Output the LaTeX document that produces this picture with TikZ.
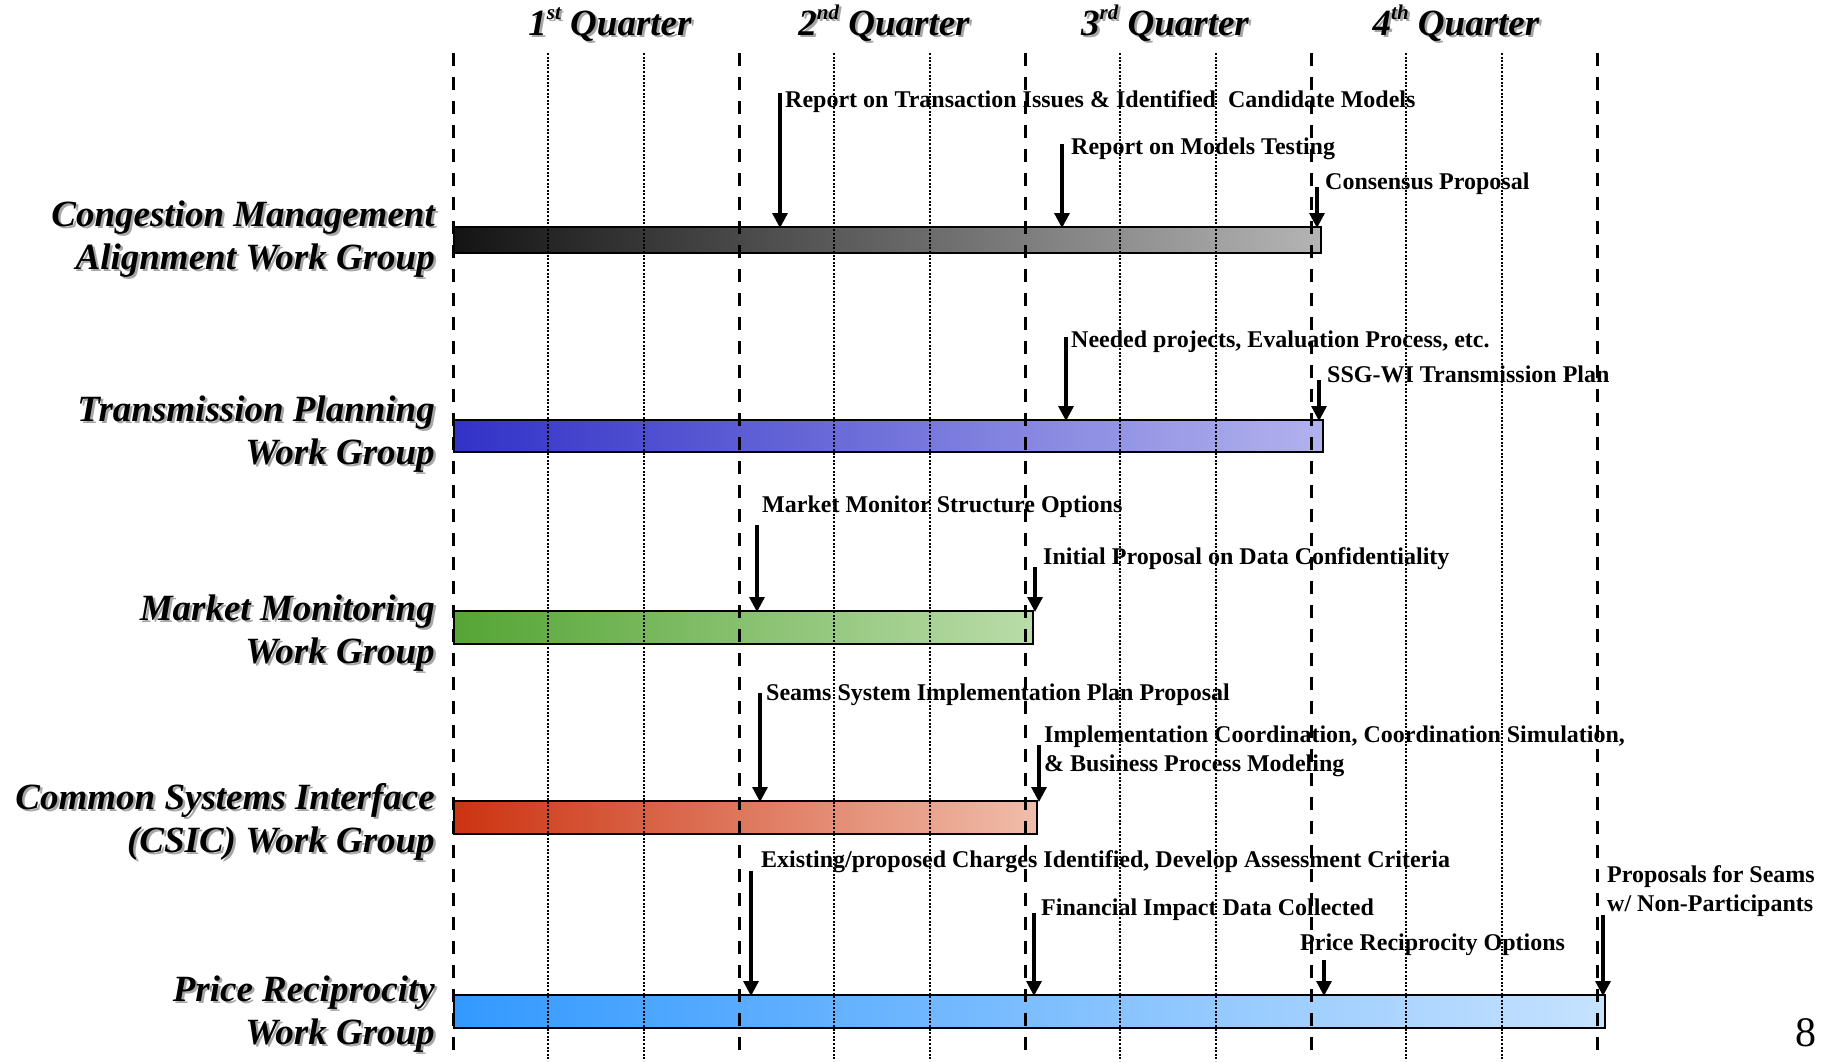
\documentclass[tikz,border=0pt]{standalone}
\usepackage{fontspec}
\setmainfont{Liberation Serif}
\usetikzlibrary{arrows.meta}
\definecolor{cmL}{HTML}{141414}\definecolor{cmR}{HTML}{B4B4B4}
\definecolor{tpL}{HTML}{3232C8}\definecolor{tpR}{HTML}{B2B2EE}
\definecolor{mmL}{HTML}{55A535}\definecolor{mmR}{HTML}{BADCA9}
\definecolor{csL}{HTML}{CC3311}\definecolor{csR}{HTML}{F0BDAA}
\definecolor{prL}{HTML}{3399FF}\definecolor{prR}{HTML}{C6E2FF}
\newcommand\qsup[1]{\raisebox{0.42em}{\fontsize{21}{21}\selectfont #1}}
\tikzset{
  grp/.style={font=\fontsize{37}{43}\selectfont\bfseries\itshape, align=right, anchor=base east, inner sep=0pt},
  grpshadow/.style={grp, text=black!35},
  qtitle/.style={font=\fontsize{37}{43}\selectfont\bfseries\itshape, anchor=base, inner sep=0pt},
  qtitleshadow/.style={qtitle, text=black!35},
  mstext/.style={font=\fontsize{24}{28.5}\selectfont\bfseries, align=left, anchor=base west, inner sep=0pt},
  bar/.style={draw=black, line width=2pt, anchor=north west, inner sep=0pt},
  qline/.style={dash pattern=on 13pt off 11pt, line width=3pt},
  mline/.style={dash pattern=on 2pt off 1.6pt, line width=2.2pt},
  msarrow/.style={line width=3.2pt, -{Triangle[length=15pt,width=15pt]}, shorten >=-2pt},
}
\newcommand\glabel[3]{%
  \node[grpshadow] (#1s) at (437.5,{#2+2.5}) {#3};
  \node[grp] (#1) at (435,#2) {#3};}
\newcommand\qlabel[3]{%
  \node[qtitleshadow] (#1s) at ({#2+2.5},37.5) {#3};
  \node[qtitle] (#1) at (#2,35) {#3};}
\begin{document}
\begin{tikzpicture}[x=1pt,y=-1pt]
\useasboundingbox (0,0) rectangle (1832,1061);
% bars
\node[bar, left color=cmL, right color=cmR, minimum width=867pt, minimum height=26pt] (b1) at (453,226) {};
\node[bar, left color=tpL, right color=tpR, minimum width=869pt, minimum height=32pt] (b2) at (453,419) {};
\node[bar, left color=mmL, right color=mmR, minimum width=579pt, minimum height=33pt] (b3) at (453,610) {};
\node[bar, left color=csL, right color=csR, minimum width=583pt, minimum height=33pt] (b4) at (453,800) {};
\node[bar, left color=prL, right color=prR, minimum width=1151pt, minimum height=33pt] (b5) at (453,994) {};
% grid lines
\foreach \k in {0,...,4} \draw[qline] ({453+286*\k},53) -- ({453+286*\k},1061);
\foreach \k in {0,...,3} {
  \draw[mline] ({453+286*\k+95.33},53) -- ({453+286*\k+95.33},1061);
  \draw[mline] ({453+286*\k+190.67},53) -- ({453+286*\k+190.67},1061);
}
% titles
\qlabel{q1}{610}{1\qsup{st} Quarter}
\qlabel{q2}{884}{2\qsup{nd} Quarter}
\qlabel{q3}{1165}{3\qsup{rd} Quarter}
\qlabel{q4}{1456}{4\qsup{th} Quarter}
% group labels (base = last line)
\glabel{g1}{269}{Congestion Management\\Alignment Work Group}
\glabel{g2}{464}{Transmission Planning\\Work Group}
\glabel{g3}{663}{Market Monitoring\\Work Group}
\glabel{g4}{852}{Common Systems Interface\\(CSIC) Work Group}
\glabel{g5}{1044}{Price Reciprocity\\Work Group}
% milestones
\node[mstext] (t1) at (785,107) {Report on Transaction Issues \& Identified~ Candidate Models};
\node[mstext] (t2) at (1071,154) {Report on Models Testing};
\node[mstext] (t3) at (1325,189) {Consensus Proposal};
\node[mstext] (t4) at (1071,347) {Needed projects, Evaluation Process, etc.};
\node[mstext] (t5) at (1327,382) {SSG-WI Transmission Plan};
\node[mstext] (t6) at (762,512) {Market Monitor Structure Options};
\node[mstext] (t7) at (1043,564) {Initial Proposal on Data Confidentiality};
\node[mstext] (t8) at (766,700) {Seams System Implementation Plan Proposal};
\node[mstext] (t9) at (1044,771) {Implementation Coordination, Coordination Simulation,\\\& Business Process Modeling};
\node[mstext] (t10) at (761,867) {Existing/proposed Charges Identified, Develop Assessment Criteria};
\node[mstext] (t11) at (1041,915) {Financial Impact Data Collected};
\node[mstext] (t12) at (1300,950) {Price Reciprocity Options};
\node[mstext] (t13) at (1607,911) {Proposals for Seams\\w/ Non-Participants};
% arrow starts
\coordinate (a1) at (780,93);
\coordinate (a2) at (1062,144);
\coordinate (a3) at (1317,187);
\coordinate (a4) at (1066,337);
\coordinate (a5) at (1319,380);
\coordinate (a6) at (757,525);
\coordinate (a7) at (1035,567);
\coordinate (a8) at (760,693);
\coordinate (a9) at (1039,745);
\coordinate (a10) at (751,871);
\coordinate (a11) at (1034,913);
\coordinate (a12) at (1324,960);
\coordinate (a13) at (1603,915);
\draw[msarrow] (a1) -- (a1 |- b1.north);
\draw[msarrow] (a2) -- (a2 |- b1.north);
\draw[msarrow] (a3) -- (a3 |- b1.north);
\draw[msarrow] (a4) -- (a4 |- b2.north);
\draw[msarrow] (a5) -- (a5 |- b2.north);
\draw[msarrow] (a6) -- (a6 |- b3.north);
\draw[msarrow] (a7) -- (a7 |- b3.north);
\draw[msarrow] (a8) -- (a8 |- b4.north);
\draw[msarrow] (a9) -- (a9 |- b4.north);
\draw[msarrow] (a10) -- (a10 |- b5.north);
\draw[msarrow] (a11) -- (a11 |- b5.north);
\draw[msarrow] (a12) -- (a12 |- b5.north);
\draw[msarrow] (a13) -- (a13 |- b5.north);
% page number
\node[font=\fontsize{42}{42}\selectfont, anchor=base, inner sep=0pt] (pg) at (1806,1046) {8};
\end{tikzpicture}
\end{document}
